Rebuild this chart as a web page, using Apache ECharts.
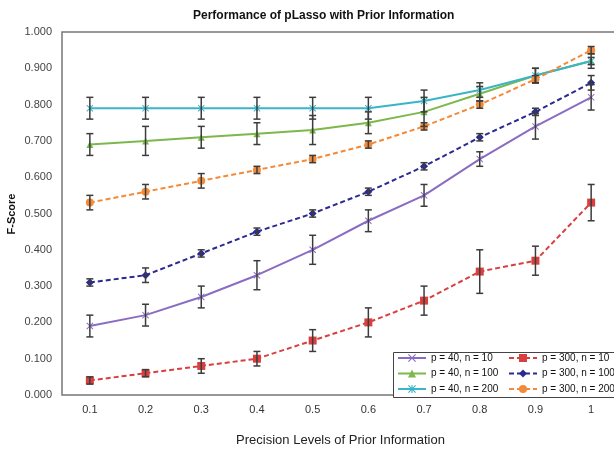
<!DOCTYPE html>
<html>
<head>
<meta charset="utf-8">
<script src="https://cdn.jsdelivr.net/npm/echarts@6/dist/echarts.min.js"></script>
<style>
  html, body { margin: 0; padding: 0; background: #fff; }
  #chart { width: 614px; height: 452px; }
</style>
</head>
<body>
<div id="chart"></div>
<script>
// precision levels (x categories)
const levels = ['0.1', '0.2', '0.3', '0.4', '0.5', '0.6', '0.7', '0.8', '0.9', '1']

// F-score means and error half-widths
const p40n10 = [0.19, 0.22, 0.27, 0.33, 0.40, 0.48, 0.55, 0.65, 0.74, 0.82]
const p40n10Err = [0.03, 0.03, 0.03, 0.04, 0.04, 0.03, 0.03, 0.02, 0.035, 0.035]
const p40n100 = [0.69, 0.70, 0.71, 0.72, 0.73, 0.75, 0.78, 0.83, 0.88, 0.92]
const p40n100Err = [0.03, 0.04, 0.03, 0.03, 0.04, 0.03, 0.04, 0.02, 0.02, 0.02]
const p40n200 = [0.79, 0.79, 0.79, 0.79, 0.79, 0.79, 0.81, 0.84, 0.88, 0.92]
const p40n200Err = [0.03, 0.03, 0.03, 0.03, 0.03, 0.03, 0.03, 0.02, 0.02, 0.01]
const p300n10 = [0.04, 0.06, 0.08, 0.10, 0.15, 0.20, 0.26, 0.34, 0.37, 0.53]
const p300n10Err = [0.01, 0.01, 0.02, 0.02, 0.03, 0.04, 0.04, 0.06, 0.04, 0.05]
const p300n100 = [0.31, 0.33, 0.39, 0.45, 0.50, 0.56, 0.63, 0.71, 0.78, 0.86]
const p300n100Err = [0.01, 0.02, 0.01, 0.01, 0.01, 0.01, 0.01, 0.01, 0.01, 0.02]
const p300n200 = [0.53, 0.56, 0.59, 0.62, 0.65, 0.69, 0.74, 0.80, 0.87, 0.95]
const p300n200Err = [0.02, 0.02, 0.02, 0.01, 0.01, 0.01, 0.01, 0.01, 0.01, 0.01]

const yTicks = [0, 0.1, 0.2, 0.3, 0.4, 0.5, 0.6, 0.7, 0.8, 0.9, 1.0]

const xMark = 'path://M1,0L5,4L9,0L10,1L6,5L10,9L9,10L5,6L1,10L0,9L4,5L0,1Z'
const starMark = 'path://M1,0L5,4L9,0L10,1L6,5L10,9L9,10L5,6L1,10L0,9L4,5L0,1Z M4.3,0L5.7,0L5.7,10L4.3,10Z'

const lines = [
  { name: 'p = 40, n = 10', data: p40n10, err: p40n10Err, color: '#8a6cc2', dash: false, symbol: xMark, size: 7 },
  { name: 'p = 40, n = 100', data: p40n100, err: p40n100Err, color: '#7cb84c', dash: false, symbol: 'triangle', size: 7 },
  { name: 'p = 40, n = 200', data: p40n200, err: p40n200Err, color: '#3cb4c8', dash: false, symbol: starMark, size: 7 },
  { name: 'p = 300, n = 10', data: p300n10, err: p300n10Err, color: '#d83f3f', dash: true, symbol: 'rect', size: 8 },
  { name: 'p = 300, n = 100', data: p300n100, err: p300n100Err, color: '#2a2a92', dash: true, symbol: 'diamond', size: 8 },
  { name: 'p = 300, n = 200', data: p300n200, err: p300n200Err, color: '#f48a38', dash: true, symbol: 'circle', size: 8 }
]

const chart = echarts.init(document.getElementById('chart'))

const lineSeries = lines.map(s => ({
  name: s.name,
  type: 'line',
  data: s.data,
  symbol: s.symbol,
  symbolSize: s.size,
  showAllSymbol: true,
  z: 2,
  lineStyle: { color: s.color, width: 2, type: s.dash ? [5, 3] : 'solid' },
  itemStyle: { color: s.color, borderWidth: 0 }
}))

// one custom series draws all the error bars
const errRows = []
lines.forEach(s => {
  s.data.forEach((v, i) => errRows.push([i, v - s.err[i], v + s.err[i]]))
})

const errSeries = {
  type: 'custom',
  name: 'err',
  data: errRows,
  encode: { x: 0, y: [1, 2] },
  z: 3,
  silent: true,
  renderItem(params, api) {
    const i = api.value(0)
    const lo = api.coord([i, api.value(1)])
    const hi = api.coord([i, api.value(2)])
    const w = 3.5
    const style = { stroke: '#3c3c3c', lineWidth: 1.5 }
    return {
      type: 'group',
      children: [
        { type: 'line', shape: { x1: lo[0], y1: lo[1], x2: hi[0], y2: hi[1] }, style },
        { type: 'line', shape: { x1: lo[0] - w, y1: lo[1], x2: lo[0] + w, y2: lo[1] }, style },
        { type: 'line', shape: { x1: hi[0] - w, y1: hi[1], x2: hi[0] + w, y2: hi[1] }, style }
      ]
    }
  }
}

const legendBase = {
  orient: 'vertical',
  top: 353,
  padding: 0,
  itemWidth: 28,
  itemHeight: 10,
  itemGap: 5.5,
  z: 6,
  textStyle: { fontFamily: 'Liberation Sans', fontSize: 10, color: '#111' }
}

const option = {
  animation: false,
  textStyle: { fontFamily: 'Liberation Sans' },
  title: {
    text: 'Performance of pLasso with Prior Information',
    left: 188,
    top: 5,
    textStyle: { fontFamily: 'Liberation Sans', fontSize: 12, fontWeight: 'bold', color: '#111' }
  },
  grid: {
    left: 62,
    right: -5,
    top: 32,
    bottom: 57,
    outerBoundsMode: 'none',
    containLabel: false,
    show: true,
    borderColor: '#777',
    borderWidth: 1.5
  },
  xAxis: {
    type: 'category',
    data: levels,
    boundaryGap: true,
    name: 'Precision Levels of Prior Information',
    nameLocation: 'middle',
    nameGap: 39,
    nameMoveOverlap: false,
    nameTextStyle: { fontSize: 13, color: '#222' },
    axisLine: { show: false },
    axisTick: { show: false },
    axisLabel: { color: '#333', fontSize: 11, margin: 9 }
  },
  yAxis: {
    type: 'value',
    min: yTicks[0],
    max: yTicks[yTicks.length - 1],
    interval: 0.1,
    axisLine: { show: false },
    axisTick: { show: false },
    splitLine: { show: false },
    axisLabel: { color: '#444', fontSize: 11, margin: 10, formatter: v => v.toFixed(3) }
  },
  legend: [
    Object.assign({}, legendBase, { left: 397, data: lines.slice(0, 3).map(s => s.name) }),
    Object.assign({}, legendBase, { left: 508, data: lines.slice(3).map(s => s.name) })
  ],
  graphic: [
    {
      type: 'rect',
      left: 393,
      top: 352,
      z: 5,
      shape: { width: 230, height: 45 },
      style: { fill: '#fff', stroke: '#444', lineWidth: 1 }
    },
    {
      // y-axis title
      type: 'text',
      x: 12,
      y: 214,
      rotation: Math.PI / 2,
      style: {
        text: 'F-Score',
        fontFamily: 'Liberation Sans',
        fontSize: 11,
        fontWeight: 'bold',
        fill: '#111',
        align: 'center',
        verticalAlign: 'middle'
      }
    }
  ],
  series: lineSeries.concat([errSeries])
}

chart.setOption(option)
</script>
</body>
</html>
